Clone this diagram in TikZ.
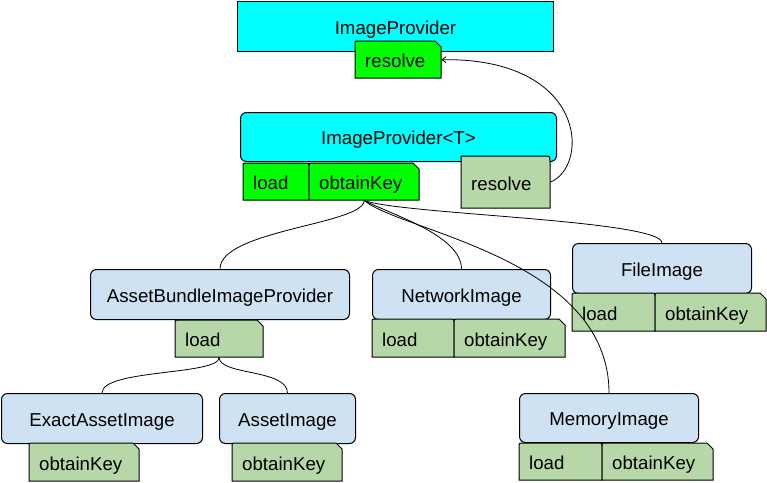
\documentclass[tikz,border=0pt]{standalone}
\usepackage{fontspec}
\setmainfont{Liberation Sans}
\usetikzlibrary{arrows.meta}
\definecolor{cyanbox}{HTML}{00FFFF}
\definecolor{greentab}{HTML}{00FF00}
\definecolor{lgreen}{HTML}{B6D7A8}
\definecolor{lblue}{HTML}{CFE2F3}
\tikzset{
  mainbox/.style={draw, line width=1pt, rounded corners=6pt, inner sep=0pt,
    text height=15pt, text depth=0pt, anchor=north west},
  sharpbox/.style={mainbox, sharp corners},
  tabtext/.style={inner xsep=10pt, inner ysep=0pt, align=left,
    text height=16pt, text depth=0pt, anchor=north west},
  tabline/.style={draw, line width=1pt},
  conn/.style={line width=0.8pt},
  arr/.style={conn, -{Straight Barb[length=4pt,width=6pt]}}
}
% box: name, x1, y1, x2, y2, style, fill, text
\newcommand\bigbox[8]{%
  \node[#6, fill=#7, minimum width={(#4-#2)*1pt}, minimum height={(#5-#3)*1pt}] (#1) at (#2,#3) {#8};}
% tab node (text left aligned)
\newcommand\tabnode[6]{%
  \node[tabtext, minimum width={(#4-#2)*1pt}, text width={(#4-#2-20)*1pt}, minimum height={(#5-#3)*1pt}] (#1) at (#2,#3) {#6};}
% tab with cut top-right corner
\newcommand\cuttab[7]{%
  \path[tabline, fill=#6] (#2,#5) -- (#2,#3+3) .. controls (#2,#3) .. (#2+3,#3) -- (#4-6,#3) -- (#4,#3+6) -- (#4,#5) -- cycle;
  \tabnode{#1}{#2}{#3}{#4}{#5}{#7}}
% tab with slightly rounded top corners
\newcommand\roundtab[7]{%
  \path[tabline, fill=#6] (#2,#5) -- (#2,#3+3) .. controls (#2,#3) .. (#2+3,#3) -- (#4-3,#3) .. controls (#4,#3) .. (#4,#3+3) -- (#4,#5) -- cycle;
  \tabnode{#1}{#2}{#3}{#4}{#5}{#7}}
% tab with rounded top-right corner only
\newcommand\rtab[7]{%
  \path[tabline, fill=#6] (#2,#5) -- (#2,#3) -- (#4-6,#3) .. controls (#4,#3) .. (#4,#3+6) -- (#4,#5) -- cycle;
  \tabnode{#1}{#2}{#3}{#4}{#5}{#7}}
\begin{document}
\begin{tikzpicture}[x=1pt, y=-1pt, font=\fontsize{18.67}{22}\selectfont]
\useasboundingbox (0,0) rectangle (767,482);
% top
\bigbox{IP}{237}{1}{553}{51}{sharpbox}{cyanbox}{ImageProvider}
\cuttab{IPres}{355}{41}{441}{78}{greentab}{resolve}
% ImageProvider<T>
\bigbox{IPT}{240}{112}{556}{161}{mainbox}{cyanbox}{ImageProvider<T>}
\roundtab{IPTload}{243}{163}{309}{200}{greentab}{load}
\cuttab{IPTok}{309}{163}{419}{200}{greentab}{obtainKey}
\rtab{IPTres}{461}{156}{550}{208}{lgreen}{resolve}
% AssetBundleImageProvider
\bigbox{AB}{90}{269}{349}{319}{mainbox}{lblue}{AssetBundleImageProvider}
\cuttab{ABload}{175}{320}{263}{357}{lgreen}{load}
% ExactAssetImage
\bigbox{EA}{1}{393}{202}{443}{mainbox}{lblue}{ExactAssetImage}
\cuttab{EAok}{29}{443}{139}{481}{lgreen}{obtainKey}
% AssetImage
\bigbox{AI}{219}{393}{355}{443}{mainbox}{lblue}{AssetImage}
\cuttab{AIok}{232}{443}{342}{481}{lgreen}{obtainKey}
% NetworkImage
\bigbox{NI}{372}{269}{550}{319}{mainbox}{lblue}{NetworkImage}
\roundtab{NIload}{372}{319}{454}{357}{lgreen}{load}
\cuttab{NIok}{454}{319}{565}{357}{lgreen}{obtainKey}
% FileImage
\bigbox{FI}{572}{243}{751}{293}{mainbox}{lblue}{FileImage}
\roundtab{FIload}{572}{293}{655}{331}{lgreen}{load}
\cuttab{FIok}{655}{293}{766}{331}{lgreen}{obtainKey}
% MemoryImage
\bigbox{MI}{519}{393}{698}{442}{mainbox}{lblue}{MemoryImage}
\roundtab{MIload}{519}{443}{602}{480}{lgreen}{load}
\cuttab{MIok}{602}{443}{713}{480}{lgreen}{obtainKey}
% connectors
\draw[conn] (IPTok.south) .. controls +(0,24) and +(0,-39) .. (AB.north);
\draw[conn] (IPTok.south) .. controls +(26,14) and +(0,-34) .. (NI.north);
\draw[conn] (IPTok.south) .. controls +(36,14) and +(0,-23) .. (FI.north);
\draw[conn] (IPTok.south) .. controls +(36,31) and +(0,-135) .. (MI.north);
\draw[conn] (ABload.south) .. controls +(0,18) and +(0,-24) .. (EA.north);
\draw[conn] (ABload.south) .. controls +(0,18) and +(0,-24) .. (AI.north);
\draw[arr] (IPTres.east) .. controls +(40,-17) and +(145,-2) .. (IPres.east);
\end{tikzpicture}
\end{document}
